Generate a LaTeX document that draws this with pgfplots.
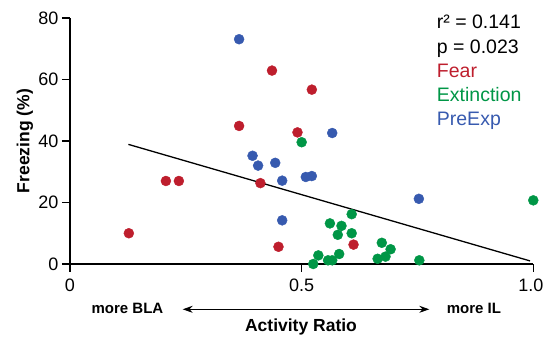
\documentclass[border=0pt]{standalone}
\usepackage{fontspec}
\setmainfont{Liberation Sans}
\usepackage{pgfplots}
\pgfplotsset{compat=1.18}
\usetikzlibrary{arrows.meta}
\definecolor{cred}{RGB}{190,30,45}
\definecolor{cgreen}{RGB}{0,150,70}
\definecolor{cblue}{RGB}{55,90,175}
\begin{document}
\begin{tikzpicture}
\begin{axis}[
  at={(0,0)}, anchor=south west,
  scale only axis, width=463.3pt, height=246pt,
  xmin=0, xmax=1, ymin=0, ymax=80,
  axis lines=left, axis line style={-, line width=1.2pt},
  xtick={0,0.5,1}, xticklabels={0,0.5,\hspace{-5pt}1.0},
  ytick={0,20,40,60,80},
  tick align=outside, major tick length=8pt,
  tick style={line width=1.2pt, black},
  ticklabel style={font=\fontsize{18}{20}\selectfont},
  xticklabel style={yshift=-3pt},
  /pgf/number format/assume math mode=true,
  clip=false,
]
\addplot[black, line width=1.3pt] coordinates {(0.126,38.9) (0.993,1.0)};
\addplot[only marks, mark=*, mark size=5pt, cred, mark options={draw=cred, fill=cred}] coordinates {
(0.365,44.9) (0.436,62.9) (0.522,56.7) (0.491,42.8) (0.207,27.0)
(0.235,27.0) (0.411,26.3) (0.127,10.0) (0.450,5.6) (0.612,6.3)};
\addplot[only marks, mark=*, mark size=5pt, cblue, mark options={draw=cblue, fill=cblue}] coordinates {
(0.365,73.1) (0.566,42.6) (0.394,35.2) (0.406,32.0) (0.443,32.9)
(0.458,27.1) (0.509,28.3) (0.522,28.6) (0.753,21.2) (0.458,14.2)};
\addplot[only marks, mark=*, mark size=5pt, cgreen, mark options={draw=cgreen, fill=cgreen}] coordinates {
(0.500,39.6) (0.608,16.2) (0.561,13.2) (0.586,12.4) (0.578,9.5)
(0.608,10.0) (0.673,6.9) (0.692,4.8) (0.581,3.25) (0.536,2.8)
(0.681,2.4) (0.664,1.7) (0.557,1.2) (0.566,1.2) (0.525,0.0)
(0.754,1.2) (1.000,20.7)};
\end{axis}
\pgfresetboundingbox
\path (-70pt,-71pt) rectangle (474pt,264pt);
\node[rotate=90, font=\bfseries\fontsize{17.5}{20}\selectfont] at (-45pt,123pt) {Freezing (\%)};
\node[anchor=base, font=\bfseries\fontsize{17.5}{20}\selectfont] at (231pt,-67.5pt) {Activity Ratio};
\node[anchor=base, font=\bfseries\fontsize{15}{18}\selectfont] at (57.5pt,-49.3pt) {more BLA};
\node[anchor=base, font=\bfseries\fontsize{15}{18}\selectfont] at (404pt,-49.3pt) {more IL};
\draw[line width=1pt, {Stealth[length=10pt,width=7pt]}-{Stealth[length=10pt,width=7pt]}] (112.7pt,-45.3pt) -- (359.3pt,-45.3pt);
\begin{scope}[every node/.style={anchor=base west, inner sep=0pt, font=\fontsize{19.5}{22}\selectfont}]
\node at (366.7pt,235.7pt) {r² = 0.141};
\node at (366.7pt,210.7pt) {p = 0.023};
\node[text=cred] at (366.7pt,186.7pt) {Fear};
\node[text=cgreen] at (366.7pt,162.3pt) {Extinction};
\node[text=cblue] at (366.7pt,138pt) {PreExp};
\end{scope}
\end{tikzpicture}
\end{document}
